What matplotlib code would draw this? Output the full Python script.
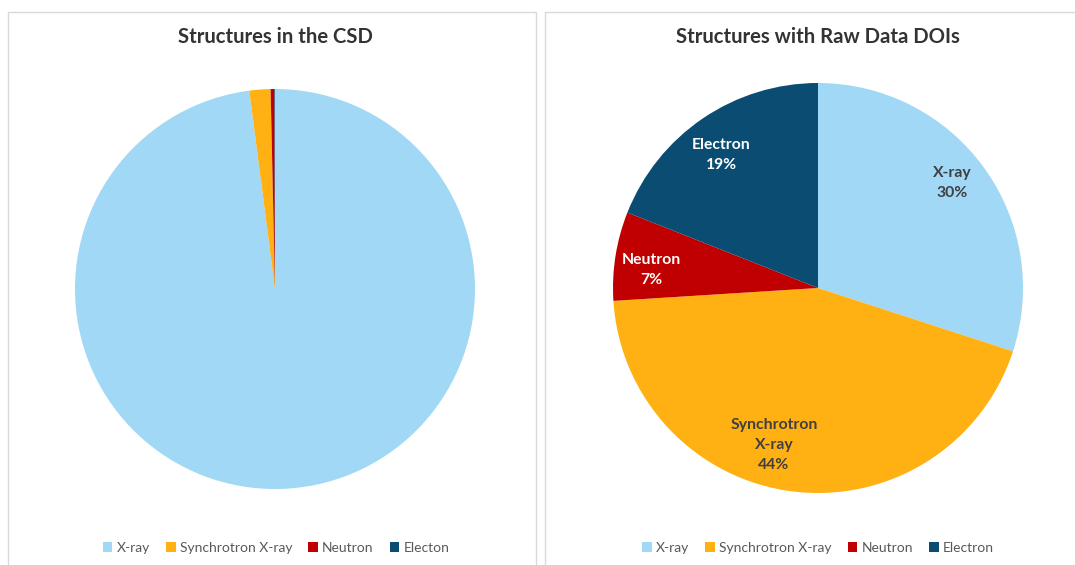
import matplotlib
matplotlib.use("Agg")
import matplotlib.pyplot as plt
from matplotlib.patches import Rectangle, Patch

plt.rcParams['font.family'] = ['Lato', 'DejaVu Sans']

# Data
left_title = "Structures in the CSD"
right_title = "Structures with Raw Data DOIs"
left_categories = ["X-ray", "Synchrotron X-ray", "Neutron", "Electon"]
left_values = [97.95, 1.7, 0.3, 0.05]
right_categories = ["X-ray", "Synchrotron X-ray", "Neutron", "Electron"]
right_values = [30, 44, 7, 19]
right_labels = ["X-ray", "Synchrotron\nX-ray", "Neutron", "Electron"]
colors = ["#A0D8F5", "#FFB012", "#C00000", "#0B4C73"]
label_colors = ["#404040", "#404040", "white", "white"]
# label placement inside the right pie (axes units, pie radius = 1)
label_pos = [(0.654, 0.512), (-0.215, -0.766), (-0.815, 0.088), (-0.473, 0.649)]

W, H = 1075, 565
fig = plt.figure(figsize=(W / 100, H / 100), dpi=100)

def fx(x):
    return x / W

def fy(y):
    return 1 - y / H

# panel borders
for (x0, x1) in [(8, 536), (545, 1085)]:
    fig.patches.append(Rectangle((fx(x0), fy(575)), fx(x1 - x0), (575 - 11.5) / H,
                                 transform=fig.transFigure, fill=False,
                                 edgecolor="#D9D9D9", linewidth=1.0))

# Left pie
cx, cy, r = 275, 289, 200
axL = fig.add_axes([fx(cx - r), fy(cy + r), fx(2 * r), (2 * r) / H])
axL.pie(left_values, colors=colors, startangle=90, counterclock=False,
        radius=1, wedgeprops=dict(linewidth=0))
axL.set_xlim(-1, 1); axL.set_ylim(-1, 1)
axL.set_aspect('auto'); axL.axis('off')

# Right pie
cx2, cy2, r2 = 818, 288, 205
axR = fig.add_axes([fx(cx2 - r2), fy(cy2 + r2), fx(2 * r2), (2 * r2) / H])
wedges, texts, autotexts = axR.pie(
    right_values, colors=colors, startangle=90, counterclock=False,
    radius=1, wedgeprops=dict(linewidth=0),
    autopct=lambda p: "", pctdistance=0.81)
for i, t in enumerate(autotexts):
    t.set_text(f"{right_labels[i]}\n{right_values[i]}%")
    t.set_color(label_colors[i])
    t.set_fontweight('bold')
    t.set_fontsize(11.3)
    t.set_linespacing(1.55)
    t.set_position(label_pos[i])
axR.set_xlim(-1, 1); axR.set_ylim(-1, 1)
axR.set_aspect('auto'); axR.axis('off')

# Titles
fig.text(fx(275), fy(37), left_title, ha='center', va='center',
         fontsize=14.6, fontweight='bold', color='#333333')
fig.text(fx(818), fy(37), right_title, ha='center', va='center',
         fontsize=14.6, fontweight='bold', color='#333333')

# Legends
def legend(cats, xc):
    handles = [Patch(facecolor=c, edgecolor='none') for c in colors]
    leg = fig.legend(handles, cats, loc='center', bbox_to_anchor=(fx(xc), fy(548)),
                     ncol=4, frameon=False, fontsize=10, handlelength=0.7,
                     handleheight=0.7, handletextpad=0.3, columnspacing=1.15,
                     labelcolor='#595959')
    return leg

legend(left_categories, 276)
legend(right_categories, 818)

fig.savefig("out.png", dpi=100)
